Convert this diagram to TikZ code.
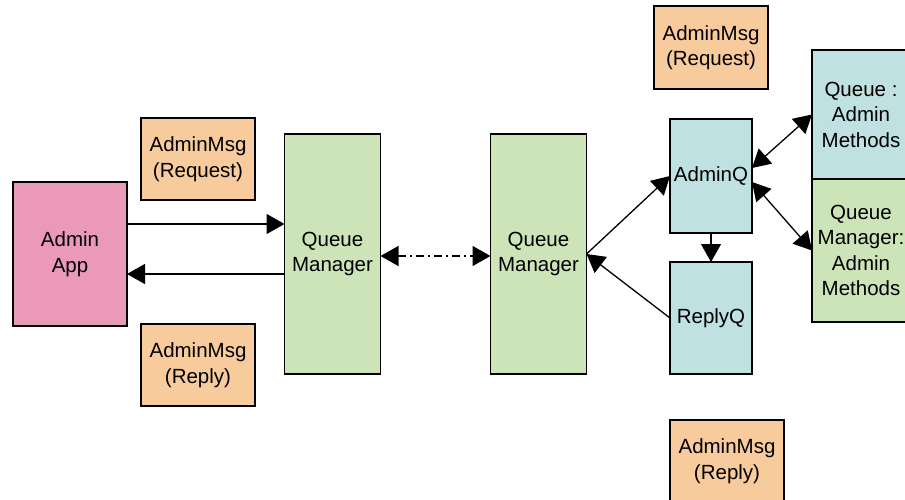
\documentclass[tikz,border=0pt]{standalone}
\usepackage{fontspec}
\setmainfont{Liberation Sans}
\usetikzlibrary{arrows.meta}

\definecolor{apppink}{RGB}{234,153,185}
\definecolor{msgorange}{RGB}{248,203,156}
\definecolor{qmgreen}{RGB}{205,228,185}
\definecolor{qblue}{RGB}{192,225,225}

\tikzset{
  box/.style={draw=black, line width=1.2pt, inner sep=0pt, outer sep=0pt,
    align=center, font=\fontsize{20.5}{25.5}\selectfont},
  appbox/.style={box, fill=apppink, minimum width=114pt, minimum height=144pt},
  msgbox/.style={box, fill=msgorange, minimum width=114pt, minimum height=82pt},
  qmbox/.style={box, fill=qmgreen, minimum width=96pt, minimum height=240pt},
  qbox/.style={box, fill=qblue, minimum width=82pt},
  methbox/.style={box, minimum width=98pt},
  tip/.tip={Triangle[length=18pt, width=20pt]},
  arr/.style={line width=1.3pt, -tip},
  biarr/.style={line width=1.3pt, tip-tip},
  dashdot/.style={dash pattern=on 8pt off 4pt on 2pt off 4pt}
}

\begin{document}
\begin{tikzpicture}[x=1pt, y=-1pt]
  \useasboundingbox (0,0) rectangle (905,500);
  \clip (0,0) rectangle (905,500);

  % client side
  \node[appbox] (app) at (70,254) {Admin\\App};
  \node[msgbox] (reqL) at (198,159) {AdminMsg\\(Request)};
  \node[msgbox] (repL) at (198,365) {AdminMsg\\(Reply)};
  \node[qmbox] (qm1) at (332.5,254) {Queue\\Manager};

  % server side
  \node[qmbox] (qm2) at (538.5,254) {Queue\\Manager};
  \node[qbox, minimum height=114pt] (adminq) at (711,176) {AdminQ};
  \node[qbox, minimum height=112pt] (replyq) at (711,318) {ReplyQ};
  \node[msgbox, minimum height=83pt] (reqR) at (711,47.5) {AdminMsg\\(Request)};
  \node[msgbox] (repR) at (727,461) {AdminMsg\\(Reply)};
  \node[methbox, fill=qblue, minimum height=129pt] (qam) at (861,114.5) {Queue :\\Admin\\Methods};
  \node[methbox, fill=qmgreen, minimum height=143pt] (qmam) at (861,250.5) {Queue\\Manager:\\Admin\\Methods};

  % connectors
  \draw[arr] ([yshift=30pt]app.east) -- ([yshift=30pt]qm1.west);
  \draw[arr] ([yshift=-20pt]qm1.west) -- ([yshift=-20pt]app.east);
  \draw[biarr, dashdot] ([yshift=-2pt]qm1.east) -- ([yshift=-2pt]qm2.west);
  \draw[arr] (qm2.east) -- (adminq.west);
  \draw[arr] (replyq.west) -- (qm2.east);
  \draw[arr] (adminq.south) -- (replyq.north);
  \draw[biarr] ([yshift=8pt]adminq.east) -- (qam.west);
  \draw[biarr] ([yshift=-6pt]adminq.east) -- (qmam.west);
\end{tikzpicture}
\end{document}
